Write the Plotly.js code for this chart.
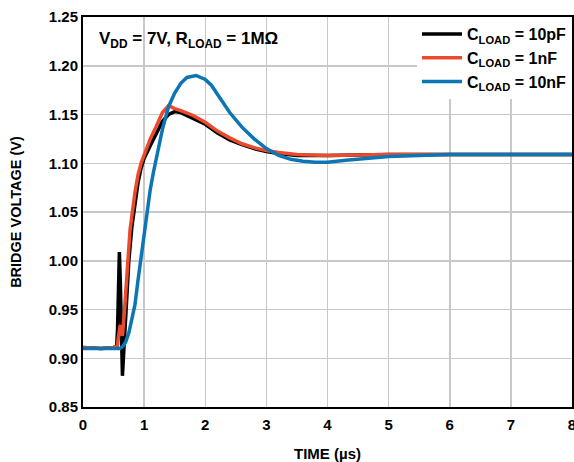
<!DOCTYPE html>
<html>
<head>
<meta charset="utf-8">
<script src="https://cdn.plot.ly/plotly-3.0.1.min.js"></script>
<style>html,body{margin:0;padding:0;background:#fff;}#chart{width:574px;height:462px;}</style>
</head>
<body>
<div id="chart"></div>
<script>
// Time axis (µs) and bridge voltage (V) per load capacitance
const t10pF = [0, 0.3, 0.5, 0.55, 0.565, 0.58, 0.595, 0.61, 0.625, 0.645, 0.67, 0.70, 0.75, 0.80, 0.85, 0.90, 0.95, 1.0, 1.1, 1.2, 1.3, 1.4, 1.5, 1.6, 1.8, 2.0, 2.2, 2.4, 2.6, 2.8, 3.0, 3.2, 3.5, 4.0, 5.0, 6.0, 7.0, 8.0];
const v10pF = [0.911, 0.910, 0.911, 0.912, 0.93, 0.98, 1.009, 0.98, 0.92, 0.882, 0.91, 0.95, 1.00, 1.035, 1.06, 1.08, 1.095, 1.105, 1.118, 1.13, 1.143, 1.150, 1.153, 1.152, 1.146, 1.140, 1.131, 1.124, 1.119, 1.115, 1.112, 1.110, 1.108, 1.108, 1.109, 1.109, 1.109, 1.109];

const t1nF = [0, 0.3, 0.5, 0.56, 0.58, 0.61, 0.63, 0.645, 0.68, 0.72, 0.77, 0.85, 0.90, 0.95, 1.0, 1.1, 1.2, 1.3, 1.4, 1.5, 1.6, 1.8, 2.0, 2.2, 2.4, 2.6, 2.8, 3.0, 3.2, 3.5, 4.0, 5.0, 6.0, 7.0, 8.0];
const v1nF = [0.911, 0.910, 0.911, 0.912, 0.922, 0.934, 0.928, 0.923, 0.95, 0.99, 1.032, 1.07, 1.088, 1.10, 1.108, 1.125, 1.138, 1.152, 1.159, 1.156, 1.154, 1.149, 1.142, 1.133, 1.126, 1.120, 1.116, 1.113, 1.111, 1.109, 1.108, 1.109, 1.109, 1.109, 1.109];

const t10nF = [0, 0.3, 0.6, 0.65, 0.7, 0.75, 0.8, 0.85, 0.9, 0.95, 1.0, 1.05, 1.1, 1.15, 1.2, 1.3, 1.4, 1.5, 1.6, 1.7, 1.85, 2.0, 2.1, 2.2, 2.4, 2.6, 2.8, 3.0, 3.2, 3.4, 3.6, 3.8, 4.0, 4.3, 4.6, 5.0, 5.5, 6.0, 7.0, 8.0];
const v10nF = [0.910, 0.910, 0.910, 0.912, 0.917, 0.926, 0.94, 0.955, 0.98, 1.005, 1.03, 1.052, 1.073, 1.09, 1.106, 1.135, 1.158, 1.172, 1.182, 1.188, 1.190, 1.186, 1.180, 1.171, 1.152, 1.137, 1.125, 1.115, 1.108, 1.104, 1.102, 1.101, 1.101, 1.103, 1.105, 1.107, 1.108, 1.109, 1.109, 1.109];

const seriesNames = ["C<sub>LOAD</sub> = 10pF", "C<sub>LOAD</sub> = 1nF", "C<sub>LOAD</sub> = 10nF"];
const xTicks = [0, 1, 2, 3, 4, 5, 6, 7, 8];
const yTicks = [0.85, 0.90, 0.95, 1.00, 1.05, 1.10, 1.15, 1.20, 1.25];
const yTickText = ["0.85", "0.90", "0.95", "1.00", "1.05", "1.10", "1.15", "1.20", "1.25"];

const font = "Liberation Sans, Arial, Helvetica, sans-serif";
const traces = [
  {x: t10pF, y: v10pF, name: seriesNames[0], mode: "lines", line: {color: "#000000", width: 3.5}},
  {x: t1nF, y: v1nF, name: seriesNames[1], mode: "lines", line: {color: "#ec4a2c", width: 3.5}},
  {x: t10nF, y: v10nF, name: seriesNames[2], mode: "lines", line: {color: "#0c76b4", width: 3.5}}
];

const layout = {
  width: 574, height: 462,
  margin: {l: 83, r: 2, t: 17, b: 55},
  paper_bgcolor: "#fff", plot_bgcolor: "#fff",
  font: {family: font, size: 15, color: "#000", weight: "bold"},
  showlegend: true,
  legend: {x: 1, xanchor: "right", y: 1.0, yanchor: "top", bgcolor: "#ffffff", borderwidth: 0,
           font: {family: font, size: 16, color: "#000", weight: "bold"}, tracegroupgap: 0, itemwidth: 40},
  xaxis: {range: [0, 8], tickvals: xTicks, ticks: "", showgrid: true, gridcolor: "#c8c8c8", gridwidth: 1.5,
          showline: true, linecolor: "#000", linewidth: 2, mirror: true, zeroline: false,
          ticklabeloverflow: "allow", ticklabelstandoff: 3,
          tickfont: {family: font, size: 15, weight: "bold"},
          title: {text: "TIME (µs)", font: {family: font, size: 15, weight: "bold"}, standoff: 17}},
  yaxis: {range: [0.85, 1.25], tickvals: yTicks, ticktext: yTickText, ticks: "", showgrid: true, gridcolor: "#c8c8c8", gridwidth: 1.5,
          showline: true, linecolor: "#000", linewidth: 2, mirror: true, zeroline: false,
          tickfont: {family: font, size: 15, weight: "bold"},
          title: {text: "BRIDGE VOLTAGE (V)", font: {family: font, size: 14.5, weight: "bold"}, standoff: 24}},
  annotations: [{xref: "paper", yref: "paper", x: 0.028, y: 0.94, xanchor: "left", yanchor: "middle", showarrow: false,
                 text: "V<sub>DD</sub> = 7V, R<sub>LOAD</sub> = 1MΩ", font: {family: font, size: 17, weight: "bold", color: "#000"}}]
};

Plotly.newPlot("chart", traces, layout, {staticPlot: true, displayModeBar: false});
</script>
</body>
</html>
